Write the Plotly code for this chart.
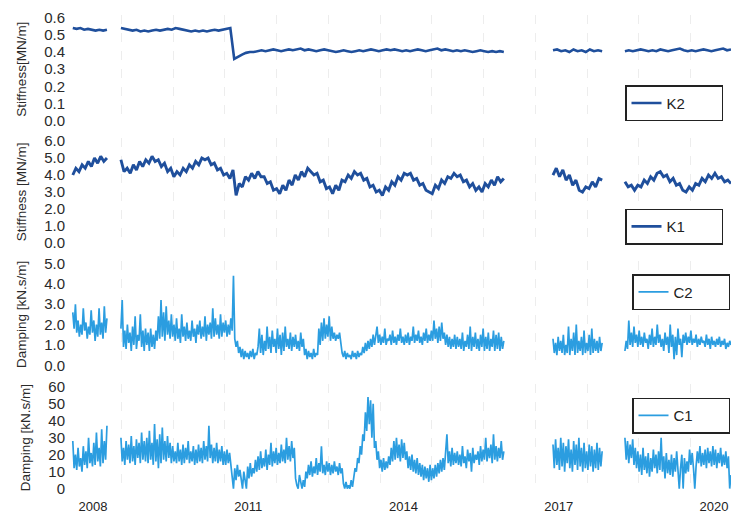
import numpy as np
import plotly.graph_objects as go

# ---------------- data ----------------
# measurement segments (fractional years): start / end of each recorded period
seg_start = [2007.61, 2008.54, 2016.89, 2018.28]
seg_end = [2008.27, 2015.94, 2017.84, 2020.33]

year_ticks = [2008, 2011, 2014, 2017, 2020]
year_labels = ["2008", "2011", "2014", "2017", "2020"]

# K2 stiffness [MN/m]
k2_a = [0.54, 0.535, 0.54, 0.53, 0.535, 0.53, 0.525, 0.53, 0.525, 0.53]
k2_b = [0.54, 0.535, 0.53, 0.525, 0.53, 0.52, 0.525, 0.52, 0.525, 0.53, 0.525, 0.53, 0.535, 0.53,
        0.54, 0.535, 0.53, 0.525, 0.52, 0.525, 0.52, 0.525, 0.52, 0.525, 0.53, 0.525, 0.53, 0.535, 0.54,
        0.36, 0.375, 0.385, 0.395, 0.40, 0.40,
        0.405, 0.41, 0.405, 0.41, 0.415, 0.41, 0.405, 0.41, 0.415, 0.41, 0.415, 0.42, 0.41, 0.415,
        0.41, 0.405, 0.41, 0.415, 0.41, 0.405, 0.40, 0.405, 0.41, 0.405, 0.40, 0.405, 0.41, 0.405,
        0.41, 0.415, 0.41, 0.405, 0.41, 0.415, 0.41, 0.415, 0.41, 0.405, 0.41, 0.405, 0.41, 0.415,
        0.41, 0.405, 0.41, 0.415, 0.42, 0.41, 0.415, 0.41, 0.405, 0.41, 0.405, 0.41, 0.405, 0.40,
        0.405, 0.41, 0.405, 0.40, 0.405, 0.40, 0.405, 0.40]
k2_c = [0.41, 0.415, 0.405, 0.41, 0.40, 0.415, 0.405, 0.41, 0.40, 0.415, 0.405, 0.41, 0.405]
k2_d = [0.405, 0.41, 0.405, 0.41, 0.415, 0.41, 0.405, 0.41, 0.405, 0.415, 0.41, 0.405, 0.41, 0.415,
        0.42, 0.41, 0.405, 0.41, 0.405, 0.41, 0.415, 0.41, 0.405, 0.41, 0.415, 0.42, 0.41, 0.415]

# K1 stiffness [MN/m]
k1_a = [4.0, 4.4, 4.2, 4.6, 4.4, 4.8, 4.5, 5.0, 4.7, 5.1, 4.8, 5.0]
k1_b = [4.9, 4.2,
        4.4, 4.1, 4.6, 4.3, 4.8, 4.5, 4.9, 4.7, 5.1,
        4.8, 4.9, 4.5, 4.7, 4.2, 4.4, 3.9, 4.2,
        4.0, 4.4, 4.2, 4.6, 4.4, 4.8, 4.6, 5.0, 4.9,
        5.0, 4.6, 4.7, 4.3, 4.4, 4.0, 4.1, 3.8, 4.3,
        2.8,
        3.5, 3.3, 3.9, 3.7, 4.1, 3.8, 4.2, 3.9,
        3.9, 3.5, 3.6, 3.1, 3.2, 2.9,
        3.4, 3.1, 3.7, 3.4, 4.0, 3.7, 4.2, 3.9, 4.4, 4.2,
        4.0, 4.1, 3.6, 3.7, 3.2, 3.3, 2.9,
        3.4, 3.1, 3.7, 3.6, 4.0, 3.8, 4.2, 4.0,
        4.1, 3.7, 3.8, 3.3, 3.4, 3.0, 3.1, 2.8,
        3.3, 3.1, 3.6, 3.4, 3.9, 3.7, 4.1, 4.0,
        4.1, 3.7, 3.8, 3.4, 3.5, 3.1, 3.0, 2.9,
        3.4, 3.2, 3.7, 3.5, 3.9, 3.8, 4.1, 3.9,
        4.0, 3.6, 3.7, 3.3, 3.5, 3.1, 3.3, 3.0,
        3.5, 3.3, 3.7, 3.4, 3.9, 3.6, 3.8]
k1_c = [4.0, 4.4, 3.9, 4.3, 3.7, 4.0, 3.4, 3.7, 3.1, 3.0, 3.3, 3.2, 3.6, 3.3, 3.8, 3.7]
k1_d = [3.6, 3.3, 3.4, 3.1, 3.4, 3.3, 3.7, 3.5, 3.9, 3.7, 4.1, 4.2, 3.9, 4.0, 3.6, 3.8, 3.4,
        3.5, 3.1, 3.0, 3.3, 3.1, 3.5, 3.4, 3.8, 3.6, 4.0, 3.8, 4.1, 3.8, 3.9, 3.6, 3.7, 3.5]

# C2 damping [kN.s/m]
c2_a = [2.6, 1.8, 3.0, 1.6, 2.2, 1.4, 2.0, 1.5, 2.8, 1.7, 2.1, 1.3, 1.9, 1.5, 2.7, 1.6, 2.2, 1.2,
        2.0, 1.4, 2.8, 1.5, 2.1, 1.3, 2.9, 1.6, 2.3]
c2_b = [1.8, 3.2, 0.9, 1.7, 0.8, 2.0, 1.1, 1.6, 0.7, 1.9, 1.0, 2.4, 0.8, 1.5, 1.2, 2.5, 0.9, 1.7, 0.7, 1.8,
        1.0, 1.6, 0.7, 1.8, 0.9, 1.5, 0.8, 1.7, 1.2, 2.4, 1.3, 3.2, 1.4, 2.6, 1.2, 2.9, 1.5, 2.2, 1.3, 2.5,
        1.4, 2.0, 1.2, 2.3, 1.3, 1.8, 1.1, 2.5, 1.4, 1.9, 1.2, 2.1, 1.3, 1.7, 1.2, 2.2, 1.4, 1.8, 1.1, 2.0,
        1.5, 2.2, 1.3, 1.9, 1.4, 2.4, 1.2, 2.0, 1.5, 2.1, 1.3, 2.8, 1.4, 2.3, 1.5, 2.0, 1.3, 2.5, 1.4, 2.1,
        1.6, 2.2, 1.4, 2.0, 1.5, 2.3, 1.7, 4.4, 1.3, 0.9, 1.2, 0.6, 0.9, 0.4, 0.8, 0.3, 0.7, 0.4, 0.6, 0.3,
        0.7, 0.4, 0.8, 0.3, 0.6, 0.5, 0.9, 1.8, 0.6, 1.5, 0.5, 1.2, 0.7, 1.9, 0.8, 1.4, 0.6, 1.7, 0.9, 1.3,
        0.6, 1.8, 0.8, 1.5, 0.5, 1.6, 0.7, 1.9, 0.9, 1.3, 0.8, 1.6, 0.7, 1.4, 0.9, 1.5, 0.8, 1.2, 0.7, 1.6,
        0.9, 1.3, 0.5, 0.8, 0.3, 0.7, 0.4, 0.6, 0.3, 0.8, 0.4, 0.6, 0.5, 1.8, 1.0, 2.1, 1.2, 2.3, 1.3, 2.0,
        1.4, 2.4, 1.2, 1.9, 1.3, 1.6, 1.2, 1.5, 1.3, 1.6, 1.1, 0.6, 0.4, 0.7, 0.3, 0.6, 0.4, 0.5, 0.3, 0.7,
        0.4, 0.6, 0.3, 0.7, 0.4, 0.6, 0.5, 0.9, 0.6, 1.1, 0.7, 1.2, 0.8, 1.3, 0.9, 1.5, 1.0, 1.4, 1.9, 1.1,
        1.5, 1.0, 1.4, 1.1, 1.8, 1.0, 1.3, 1.2, 1.5, 1.0, 1.7, 1.1, 1.4, 1.0, 1.5, 1.2, 1.8, 1.1, 1.4, 1.0,
        1.5, 1.1, 1.6, 1.0, 1.4, 1.2, 1.9, 1.1, 1.5, 1.2, 1.7, 1.1, 1.4, 1.0, 1.6, 1.2, 1.8, 1.1, 1.5, 1.2,
        1.7, 1.2, 2.2, 1.3, 1.8, 1.1, 1.9, 1.2, 2.1, 1.3, 1.6, 1.0, 1.5, 0.9, 1.4, 0.8, 1.3, 0.9, 1.5, 0.8,
        1.4, 0.9, 1.3, 0.8, 1.6, 0.7, 1.2, 0.9, 1.5, 0.8, 1.9, 0.7, 1.4, 0.9, 1.6, 0.8, 1.3, 0.7, 1.5, 0.9,
        1.8, 0.7, 1.4, 0.8, 1.6, 0.7, 1.3, 0.9, 1.7, 0.7, 1.5, 0.8, 1.6, 0.7, 1.4, 0.8, 1.2]
c2_c = [1.3, 0.6, 1.1, 0.5, 1.4, 0.7, 1.2, 0.6, 1.5, 0.5, 1.0, 0.6, 1.9, 0.5, 1.3, 0.7, 1.6, 0.5, 2.0,
        0.6, 1.2, 0.7, 1.4, 0.5, 1.7, 0.6, 1.1, 0.7, 1.5, 0.5, 1.8, 0.6, 1.3, 0.7, 1.2, 0.6, 1.4, 0.7, 1.1]
c2_d = [0.7, 1.2, 0.8, 2.2, 1.0, 1.6, 0.9, 1.9, 1.1,
        1.5, 0.9, 1.7, 1.0, 1.4, 0.9, 1.6, 1.1, 1.3, 0.8, 1.5, 1.0, 1.8, 0.9, 1.4, 1.0, 2.0, 1.1, 1.5, 0.9,
        1.3, 0.7, 1.6, 1.0, 1.4, 0.6, 2.0, 0.9, 1.5, 0.3, 1.4, 0.5, 1.8, 1.0, 1.3, 0.4, 1.5, 1.1, 1.6, 1.0,
        1.4, 1.1, 1.7, 1.0, 1.3, 1.1, 1.5, 0.9, 1.3, 1.0, 1.4, 1.1, 1.2, 0.9, 1.5, 1.0, 1.3, 0.8, 1.4, 1.0,
        1.2, 0.9, 1.3, 1.0, 1.4, 0.9, 1.2, 1.0, 1.3, 0.8, 1.1, 0.9, 1.2, 1.0]

# C1 damping [kN.s/m]
c1_a = [28, 12, 20, 11, 24, 13, 18, 10, 25, 14, 22, 12, 30, 15, 21, 13, 27, 14, 33, 16, 24, 13, 35, 15,
        28, 17, 37]
c1_b = [30, 16, 24, 14, 28, 17, 26, 15, 31, 16, 25, 14, 29, 18, 27, 15, 33, 17, 28, 16,
        30, 15, 34, 17, 27, 14, 38, 16, 29, 12, 32, 15, 36, 17, 28, 16, 31, 18, 27, 15,
        25, 16, 22, 15, 27, 16, 23, 14, 26, 15, 24, 17, 28, 15, 22, 16, 25, 14, 23, 15,
        26, 16, 24, 15, 28, 17, 25, 16, 37, 18, 26, 15, 24, 16, 27, 15, 23, 16, 25, 14,
        22, 14, 23, 15, 21, 13, 8, 0, 12, 5, 14, 7, 11, 4, 0, 10, 3, 0, 13, 6,
        15, 7, 12, 9, 17, 10, 19, 11, 22, 12, 18, 13, 23, 11, 20, 14, 27, 13, 22, 15,
        24, 14, 21, 15, 26, 16, 23, 15, 30, 17, 25, 16, 28, 18, 24, 6, 2, 0, 8, 3,
        0, 5, 1, 10, 6, 14, 8, 16, 7, 13, 9, 18, 8, 15, 10, 25, 9, 14, 8, 16,
        10, 15, 8, 14, 9, 16, 10, 13, 8, 15, 9, 12, 3, 0, 4, 0, 2, 0, 5, 1,
        6, 12, 10, 18, 15, 25, 20, 32, 28, 45, 34, 54, 38, 52, 30, 50, 24, 28, 17, 22,
        12, 17, 10, 18, 11, 16, 12, 19, 14, 24, 16, 28, 17, 30, 18, 26, 16, 29, 18, 27,
        17, 22, 12, 19, 11, 20, 10, 17, 9, 18, 8, 15, 7, 14, 5, 13, 6, 12, 4, 14,
        5, 12, 6, 14, 7, 15, 9, 17, 10, 18, 11, 20, 32, 15, 22, 13, 24, 14, 21, 15,
        22, 14, 20, 13, 25, 15, 19, 12, 23, 16, 21, 10, 24, 15, 20, 17, 22, 14, 25, 16,
        23, 17, 30, 16, 24, 18, 26, 15, 32, 17, 25, 16, 24, 18, 28, 17, 22]
c1_c = [26, 12, 29, 14, 24, 11, 30, 13, 27, 10, 25, 15, 29, 12, 23, 10, 28, 14, 26, 11, 30, 13, 24, 10,
        27, 12, 22, 11, 26, 13, 25, 10, 23, 12, 27, 11, 24, 13, 22]
c1_d = [30, 17, 28, 15, 26, 18, 29, 14, 24,
        12, 22, 10, 20, 8, 24, 11, 19, 9, 21, 7, 18, 10, 23, 12, 20, 9, 22, 11, 30,
        10, 19, 6, 21, 9, 17, 8, 20, 7, 18, 10, 22, 9, 0, 12, 20, 0, 18, 9, 16,
        10, 23, 14, 21, 12, 0, 13, 22, 15, 25, 13, 21, 14, 23, 12, 24, 15, 22, 13, 25,
        14, 23, 12, 21, 15, 24, 13, 20, 14, 22, 12, 19, 0, 8]


def build(parts):
    xs, ys = [], []
    for s, e, vals in zip(seg_start, seg_end, parts):
        xs += list(np.linspace(s, e, len(vals)))
        ys += list(vals)
        xs.append(None)
        ys.append(None)
    return xs, ys


# ---------------- layout helpers ----------------
W, H = 731, 521
ML = 70
PAD = 3


def px_x(px):
    return (px - ML) / (W - ML)


def px_y(py):
    return 1 - py / H


K_COLOR = "#1f4f9c"
C_COLOR = "#2b9de0"

panels = [
    # name, parts, color, width, title, max, dtick, fmt, top_px, zero_px, legend (right px, top px)
    ("K2", [k2_a, k2_b, k2_c, k2_d], K_COLOR, 2.6, "Stiffness[MN/m]", 0.6, 0.1, ".1f", 12, 117, (723, 81)),
    ("K1", [k1_a, k1_b, k1_c, k1_d], K_COLOR, 2.9, "Stiffness [MN/m]", 6.0, 1.0, ".1f", 138, 242, (723, 207)),
    ("C2", [c2_a, c2_b, c2_c, c2_d], C_COLOR, 1.7, "Damping [kN.s/m]", 5.0, 1.0, ".1f", 263, 367, (730, 274)),
    ("C1", [c1_a, c1_b, c1_c, c1_d], C_COLOR, 1.7, "Damping [kN.s/m]", 60, 10, "d", 389, 493, (730, 400)),
]

fig = go.Figure()
layout = dict(
    width=W, height=H,
    margin=dict(l=ML, r=0, t=0, b=0),
    paper_bgcolor="white", plot_bgcolor="white",
    font=dict(family="Liberation Sans, Arial, sans-serif", color="#2a2a2a"),
)

for i, (name, parts, color, lw, title, vmax, dtick, fmt, top, zero, leg) in enumerate(panels):
    n = i + 1
    sfx = "" if n == 1 else str(n)
    xs, ys = build(parts)
    fig.add_trace(go.Scatter(
        x=xs, y=ys, mode="lines", name=name,
        line=dict(color=color, width=lw),
        xaxis="x" + sfx, yaxis="y" + sfx,
        legend="legend" + sfx, showlegend=True,
    ))
    upp = vmax / (zero - top)  # units per pixel
    layout["yaxis" + sfx] = dict(
        domain=[px_y(zero + PAD), px_y(top - PAD)],
        range=[-PAD * upp, vmax + PAD * upp],
        anchor="x" + sfx,
        tickmode="linear", tick0=0, dtick=dtick, tickformat=fmt,
        showgrid=False, zeroline=False, showline=False, ticks="",
        ticklabelstandoff=4,
        tickfont=dict(size=15, color="#2a2a2a"),
        title=dict(text=title, font=dict(size=13.5, color="#2a2a2a"), standoff=14),
    )
    layout["xaxis" + sfx] = dict(
        domain=[0, 1],
        range=[2007.556, 2020.33],
        anchor="y" + sfx,
        showgrid=False, zeroline=False, showline=False, ticks="",
        tickmode="array", tickvals=year_ticks, ticktext=year_labels,
        showticklabels=(n == 4),
        tickfont=dict(size=13, color="#222222"),
        ticklabelstandoff=5,
        minor=dict(showgrid=True, tick0=2007.55, dtick=1, gridcolor="#ededed",
                   griddash="dash", gridwidth=1),
    )
    if n > 1:
        layout["xaxis" + sfx]["matches"] = "x"
    layout["legend" + sfx] = dict(
        x=px_x(leg[0]), y=px_y(leg[1]), xanchor="right", yanchor="top",
        bordercolor="#222222", borderwidth=1.5, bgcolor="white",
        font=dict(size=15, color="#222222"),
        orientation="h", entrywidth=50, entrywidthmode="pixels",
    )

fig.update_layout(**layout)
fig.write_html("out.html")
